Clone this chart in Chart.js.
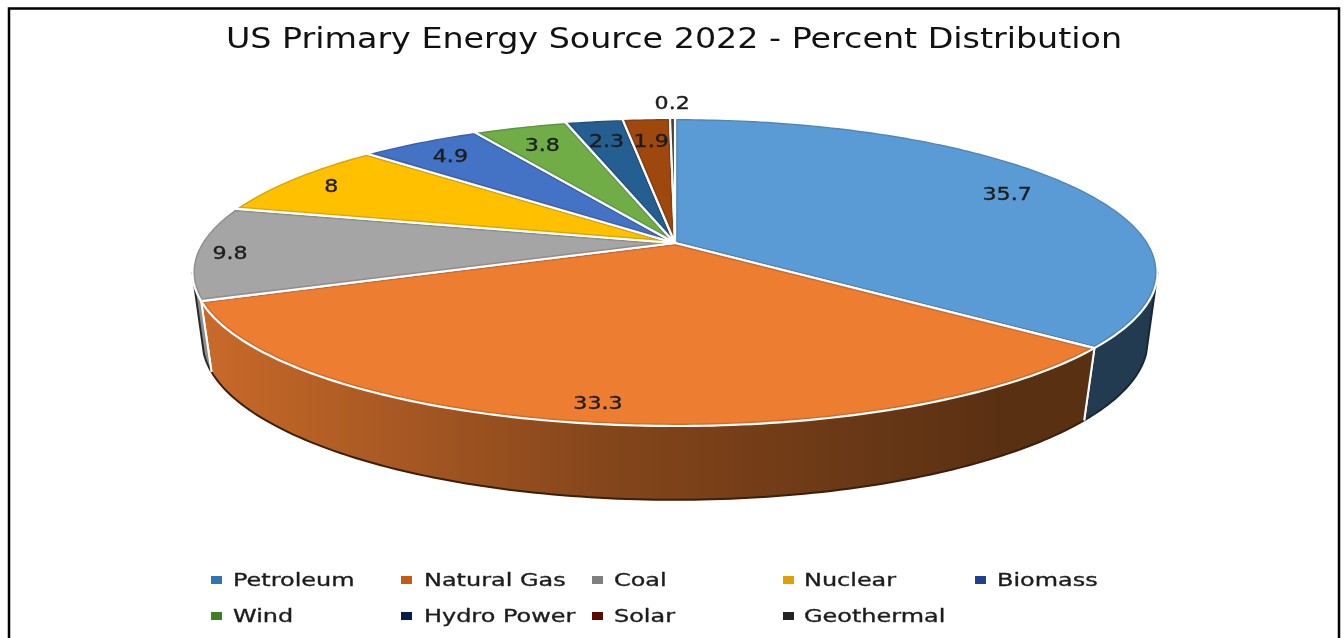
<!DOCTYPE html>
<html>
<head>
<meta charset="utf-8">
<title>US Primary Energy Source 2022</title>
<script src="https://cdn.jsdelivr.net/npm/chart.js@4"></script>
<style>
html, body { margin: 0; padding: 0; background: #fff; overflow: hidden; }
canvas { display: block; }
</style>
</head>
<body>
<canvas id="energy-pie" width="1344" height="638"></canvas>
<script>
const categories = ['Petroleum', 'Natural Gas', 'Coal', 'Nuclear', 'Biomass', 'Wind', 'Hydro Power', 'Solar', 'Geothermal'];
const shares = [35.7, 33.3, 9.8, 8, 4.9, 3.8, 2.3, 1.9, 0.2];
const sliceColors = ['#5b9bd5', '#ed7d31', '#a5a5a5', '#ffc000', '#4472c4', '#70ad47', '#255e91', '#9e480e', '#4a4a4a'];
const legendColors = ['#2e75b6', '#c55a11', '#7f7f7f', '#e0a000', '#1f3f8f', '#3f8020', '#0a1a4a', '#5a0a00', '#222222'];
// how far along the radius each value label sits
const labelReach = [0.83, 0.9, 0.93, 0.89, 0.86, 0.83, 0.82, 0.8, 1.16];

// the 3D look: each disc is the unit circle seen in perspective
const topDisc = { x: 675, y: 243, a: 474, b: 148.6, k: 0.188 };
const bottomDisc = { x: 675, y: 312, a: 465, b: 154, k: 0.18 };

function project(disc, theta, reach) {
    const u = Math.sin(theta) * reach;
    const v = -Math.cos(theta) * reach;
    const d = 1 - disc.k * v;
    return [disc.x + disc.a * u / d, disc.y + disc.b * v / d];
}

function rimPoints(disc, from, to) {
    const pts = [];
    const steps = Math.max(2, Math.ceil(Math.abs(to - from) * 60));
    for (let i = 0; i <= steps; i++) {
        pts.push(project(disc, from + (to - from) * i / steps, 1));
    }
    return pts;
}

function tracePath(ctx, pts) {
    ctx.beginPath();
    pts.forEach((p, i) => i ? ctx.lineTo(p[0], p[1]) : ctx.moveTo(p[0], p[1]));
}

function shade(hex, f) {
    const n = parseInt(hex.slice(1), 16);
    return `rgb(${Math.round((n >> 16) * f)},${Math.round(((n >> 8) & 255) * f)},${Math.round((n & 255) * f)})`;
}

function wideText(ctx, text, x, y, stretch) {
    ctx.save();
    ctx.translate(x, y);
    ctx.scale(stretch, 1);
    ctx.lineWidth = 0.35;
    ctx.strokeStyle = ctx.fillStyle;
    ctx.strokeText(text, 0, 0);
    ctx.fillText(text, 0, 0);
    ctx.restore();
}

const frame = {
    id: 'frame',
    beforeDraw(chart) {
        const ctx = chart.ctx;
        ctx.save();
        ctx.strokeStyle = '#000';
        ctx.lineWidth = 2.5;
        ctx.strokeRect(9, 8.5, 1330, 700);
        ctx.restore();
        // the title box is drawn next, widen it like the rest of the text
        ctx.save();
        ctx.translate(674, 0);
        ctx.scale(1.19, 1);
        ctx.translate(-672, 0);
    }
};

const pie3d = {
    id: 'pie3d',
    beforeDatasetsDraw(chart) {
        const ctx = chart.ctx;
        ctx.restore();
        const arcs = chart.getDatasetMeta(0).data;
        const angles = arcs.map(a => [a.startAngle + Math.PI / 2, a.endAngle + Math.PI / 2]);
        const wallFrom = 100.8 * Math.PI / 180;
        const wallTo = 259.2 * Math.PI / 180;
        const lowFrom = 105 * Math.PI / 180;
        const lowTo = 255 * Math.PI / 180;

        // side walls first, only the part facing us
        angles.forEach((ang, i) => {
            const from = Math.max(ang[0], wallFrom);
            const to = Math.min(ang[1], wallTo);
            if (to <= from) return;
            const upper = rimPoints(topDisc, from, to);
            const lower = rimPoints(bottomDisc, Math.max(ang[0], lowFrom), Math.min(ang[1], lowTo));
            const grad = ctx.createLinearGradient(200, 0, 1000, 0);
            grad.addColorStop(0, shade(sliceColors[i], 0.85));
            grad.addColorStop(0.5, shade(sliceColors[i], 0.56));
            grad.addColorStop(1, shade(sliceColors[i], 0.38));
            tracePath(ctx, upper.concat(lower.slice().reverse()));
            ctx.closePath();
            ctx.fillStyle = grad;
            ctx.fill();
            // dark outer edge, then white where two slices meet
            const outer = lower.slice();
            if (from === wallFrom) outer.unshift(upper[0]);
            if (to === wallTo) outer.push(upper[upper.length - 1]);
            tracePath(ctx, outer);
            ctx.strokeStyle = shade(sliceColors[i], 0.25);
            ctx.lineWidth = 2;
            ctx.stroke();
            if (from === ang[0]) {
                tracePath(ctx, [upper[0], lower[0]]);
                ctx.strokeStyle = '#fff';
                ctx.stroke();
            }
            if (to === ang[1]) {
                tracePath(ctx, [upper[upper.length - 1], lower[lower.length - 1]]);
                ctx.strokeStyle = '#fff';
                ctx.stroke();
            }
        });

        // top faces
        angles.forEach((ang, i) => {
            const pts = [[topDisc.x, topDisc.y]].concat(rimPoints(topDisc, ang[0], ang[1]));
            tracePath(ctx, pts);
            ctx.closePath();
            ctx.fillStyle = sliceColors[i];
            ctx.fill();
            ctx.save();
            ctx.clip();
            ctx.strokeStyle = 'rgba(0,0,30,0.14)';
            ctx.lineWidth = 5;
            ctx.stroke();
            ctx.restore();
            ctx.strokeStyle = '#fff';
            ctx.lineWidth = 2.2;
            ctx.lineJoin = 'round';
            ctx.stroke();
        });

        // value labels
        ctx.save();
        ctx.font = '17px "DejaVu Sans"';
        ctx.textAlign = 'center';
        ctx.textBaseline = 'middle';
        ctx.fillStyle = '#1c1c1c';
        angles.forEach((ang, i) => {
            const p = project(topDisc, (ang[0] + ang[1]) / 2, labelReach[i]);
            wideText(ctx, String(shares[i]), p[0], p[1] + 3, 1.3);
        });
        ctx.restore();

        // legend in five fixed columns
        const swatchX = [211, 401, 592, 783, 975];
        const textX = [233, 424, 614, 804, 997];
        const rowY = [581, 617];
        ctx.save();
        ctx.font = '18px "DejaVu Sans"';
        ctx.textAlign = 'left';
        ctx.textBaseline = 'middle';
        chart.data.labels.forEach((label, i) => {
            const col = i % 5;
            const y = rowY[Math.floor(i / 5)];
            ctx.fillStyle = legendColors[i];
            ctx.fillRect(swatchX[col], y - 5, 11, 8);
            ctx.fillStyle = '#1c1c1c';
            wideText(ctx, label, textX[col], y, 1.33);
        });
        ctx.restore();
        return false;
    }
};

new Chart(document.getElementById('energy-pie').getContext('2d'), {
    type: 'pie',
    data: {
        labels: categories,
        datasets: [{
            label: 'Percent',
            data: shares,
            backgroundColor: sliceColors,
            borderColor: '#fff'
        }]
    },
    options: {
        responsive: false,
        animation: false,
        layout: { padding: { top: 10 } },
        plugins: {
            legend: { display: false },
            tooltip: { enabled: false },
            title: {
                display: true,
                text: 'US Primary Energy Source 2022 - Percent Distribution',
                color: '#111',
                font: { family: '"DejaVu Sans"', size: 28, weight: 'normal' },
                padding: { top: 14, bottom: 10 }
            }
        }
    },
    plugins: [frame, pie3d]
});
</script>
</body>
</html>
